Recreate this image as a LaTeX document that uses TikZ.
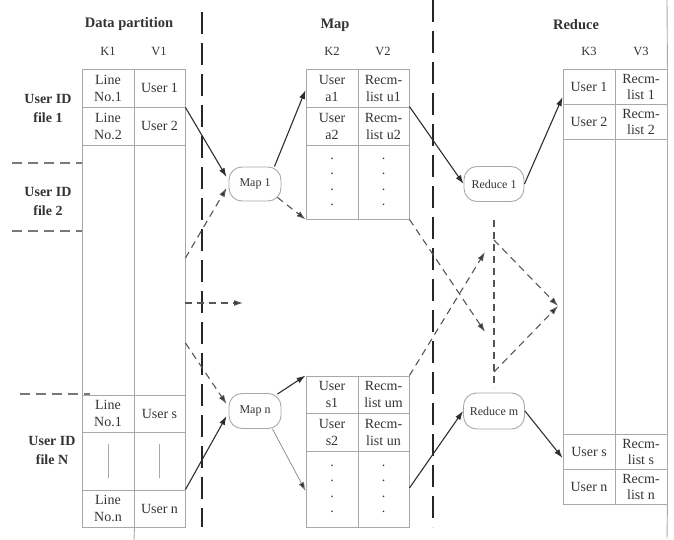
\documentclass[tikz,border=0pt]{standalone}
\usepackage{fontspec}
\setmainfont{Liberation Serif}
\usetikzlibrary{arrows.meta}
\definecolor{tline}{HTML}{A8A8A8}
\definecolor{txt}{HTML}{333333}
\definecolor{arr}{HTML}{2E2E2E}
\definecolor{darr}{HTML}{555555}
\begin{document}
\begin{tikzpicture}[x=1pt,y=-1pt,
  cell/.style={draw=tline,line width=0.9pt,inner sep=0pt,align=center,text=txt,
    font=\fontsize{14}{17}\selectfont},
  dots/.style={cell,font=\fontsize{14}{15.5}\selectfont},
  pill/.style={draw=tline,line width=0.9pt,rounded corners=13pt,inner sep=0pt,
    text=txt,font=\fontsize{12}{14}\selectfont},
  head/.style={text=txt,font=\fontsize{14.5}{17}\selectfont\bfseries},
  colhead/.style={text=txt,font=\fontsize{12.5}{15}\selectfont},
  side/.style={text=txt,align=center,font=\fontsize{14}{19}\selectfont\bfseries},
  sarr/.style={draw=arr,line width=1.1pt,-{Latex[length=9pt,width=6pt]}},
  darrow/.style={draw=darr,line width=1.1pt,dash pattern=on 7pt off 5pt,-{Latex[length=9pt,width=6pt,fill=arr]}},
  dline/.style={draw=darr,line width=1.1pt,dash pattern=on 7pt off 5pt},
  sep/.style={draw=black!85,line width=2.2pt,dash pattern=on 22pt off 9pt},
  lsep/.style={draw=darr!80,line width=1.3pt,dash pattern=on 10pt off 6pt},
  ext/.style={draw=tline,line width=0.9pt}]
\useasboundingbox (0,0) rectangle (674,540);

% headers
\node[head] (hdp) at (129,24) {Data partition};
\node[head] (hmap) at (335,25) {Map};
\node[head] (hred) at (576,25) {Reduce};
\node[colhead] (k1) at (108,51) {K1};
\node[colhead] (v1) at (159,51) {V1};
\node[colhead] (k2) at (332,51) {K2};
\node[colhead] (v2) at (383,51) {V2};
\node[colhead] (k3) at (589,51) {K3};
\node[colhead] (v3) at (641,51) {V3};

% side labels
\node[side] (f1) at (48,108) {User ID\\file 1};
\node[side] (f2) at (48,201) {User ID\\file 2};
\node[side] (fn) at (52,450) {User ID\\file N};
\coordinate (l1a) at (12,163); \coordinate (l1b) at (82,163);
\coordinate (l2a) at (12,231); \coordinate (l2b) at (82,231);
\coordinate (l3a) at (20,394); \coordinate (l3b) at (90,394);
\draw[lsep] (l1a) -- (l1b);
\draw[lsep] (l2a) -- (l2b);
\draw[lsep] (l3a) -- (l3b);

% data partition table
\node[cell,minimum width=52pt,minimum height=38pt] (d11) at (108,88) {Line\\No.1};
\node[cell,minimum width=51pt,minimum height=38pt] (d12) at (159.5,88) {User 1};
\node[cell,minimum width=52pt,minimum height=38pt] (d21) at (108,126) {Line\\No.2};
\node[cell,minimum width=51pt,minimum height=38pt] (d22) at (159.5,126) {User 2};
\node[cell,minimum width=52pt,minimum height=250pt] (d31) at (108,270) {};
\node[cell,minimum width=51pt,minimum height=250pt] (d32) at (159.5,270) {};
\node[cell,minimum width=52pt,minimum height=37pt] (d41) at (108,413.5) {Line\\No.1};
\node[cell,minimum width=51pt,minimum height=37pt] (d42) at (159.5,413.5) {User s};
\node[cell,minimum width=52pt,minimum height=58pt] (d51) at (108,461) {\textcolor{tline}{\rule{0.9pt}{34pt}}};
\node[cell,minimum width=51pt,minimum height=58pt] (d52) at (159.5,461) {\textcolor{tline}{\rule{0.9pt}{34pt}}};
\node[cell,minimum width=52pt,minimum height=37pt] (d61) at (108,508.5) {Line\\No.n};
\node[cell,minimum width=51pt,minimum height=37pt] (d62) at (159.5,508.5) {User n};
\coordinate (dext) at (134,540);
\draw[ext] (d61.south east) -- (dext);

% map tables
\node[cell,minimum width=52pt,minimum height=38pt] (m11) at (332,88) {User\\a1};
\node[cell,minimum width=51pt,minimum height=38pt] (m12) at (383.5,88) {Recm-\\list u1};
\node[cell,minimum width=52pt,minimum height=38pt] (m21) at (332,126) {User\\a2};
\node[cell,minimum width=51pt,minimum height=38pt] (m22) at (383.5,126) {Recm-\\list u2};
\node[dots,minimum width=52pt,minimum height=74pt] (m31) at (332,182) {.\\.\\.\\.};
\node[dots,minimum width=51pt,minimum height=74pt] (m32) at (383.5,182) {.\\.\\.\\.};

\node[cell,minimum width=52pt,minimum height=37pt] (n11) at (332,394.5) {User\\s1};
\node[cell,minimum width=51pt,minimum height=37pt] (n12) at (383.5,394.5) {Recm-\\list um};
\node[cell,minimum width=52pt,minimum height=38pt] (n21) at (332,432) {User\\s2};
\node[cell,minimum width=51pt,minimum height=38pt] (n22) at (383.5,432) {Recm-\\list un};
\node[dots,minimum width=52pt,minimum height=76pt] (n31) at (332,489) {.\\.\\.\\.};
\node[dots,minimum width=51pt,minimum height=76pt] (n32) at (383.5,489) {.\\.\\.\\.};

% reduce table
\node[cell,minimum width=52pt,minimum height=35pt] (r11) at (589,86.5) {User 1};
\node[cell,minimum width=52pt,minimum height=35pt,font=\fontsize{14}{16}\selectfont] (r12) at (641,86.5) {Recm-\\list 1};
\node[cell,minimum width=52pt,minimum height=35pt] (r21) at (589,121.5) {User 2};
\node[cell,minimum width=52pt,minimum height=35pt,font=\fontsize{14}{16}\selectfont] (r22) at (641,121.5) {Recm-\\list 2};
\node[cell,minimum width=52pt,minimum height=295pt] (r31) at (589,286.5) {};
\node[cell,minimum width=52pt,minimum height=295pt] (r32) at (641,286.5) {};
\node[cell,minimum width=52pt,minimum height=35pt] (r41) at (589,451.5) {User s};
\node[cell,minimum width=52pt,minimum height=35pt,font=\fontsize{14}{16}\selectfont] (r42) at (641,451.5) {Recm-\\list s};
\node[cell,minimum width=52pt,minimum height=35pt] (r51) at (589,486.5) {User n};
\node[cell,minimum width=52pt,minimum height=35pt,font=\fontsize{14}{16}\selectfont] (r52) at (641,486.5) {Recm-\\list n};
\coordinate (rtop) at (667,0);
\coordinate (rbot) at (667,538);
\draw[ext] (rtop) -- (r12.north east);
\draw[ext] (r52.south east) -- (rbot);

% separators
\coordinate (s1a) at (202,12); \coordinate (s1b) at (202,527);
\coordinate (s2a) at (433,0); \coordinate (s2b) at (433,527);
\draw[sep] (s1a) -- (s1b);
\draw[sep] (s2a) -- (s2b);

% process nodes
\node[pill,minimum width=52pt,minimum height=34pt] (map1) at (255,184) {Map 1};
\node[pill,minimum width=52pt,minimum height=35pt] (mapn) at (255,411) {Map n};
\node[pill,minimum width=60pt,minimum height=35pt] (red1) at (494,184) {Reduce 1};
\node[pill,minimum width=61pt,minimum height=36pt] (redm) at (494,411) {Reduce m};

% data -> map
\draw[sarr] (d12.south east) -- ([xshift=-2pt,yshift=7pt]map1.west);
\draw[darrow] ([yshift=12pt]d32.east) -- ([xshift=-2pt,yshift=-4pt]map1.west);
\coordinate (mid) at (243,303);
\draw[darrow] ([yshift=-33pt]d32.east) -- (mid);
\draw[darrow] ([yshift=-73pt]d32.east) -- ([xshift=-2pt,yshift=7pt]mapn.west);
\draw[sarr] (d62.north east) -- ([xshift=-2pt,yshift=-5pt]mapn.west);

% map -> map tables
\draw[sarr] ([xshift=-7pt]map1.north east) -- ([yshift=-2pt]m11.west);
\draw[darrow] ([xshift=-4pt,yshift=4pt]map1.south east) -- (m31.south west);
\draw[sarr] ([xshift=-4pt,yshift=-1pt]mapn.north east) -- (n11.north west);
\draw[draw=arr!60,line width=0.7pt,-{Latex[length=9pt,width=6pt,fill=arr]}] ([xshift=-9pt]mapn.south east) -- ([yshift=-2pt]n31.west);

% map tables -> reduce
\draw[sarr] (m22.north east) -- (red1.west);
\coordinate (x1) at (485,332);
\coordinate (x2) at (485,252);
\draw[darrow] (m32.south east) -- (x1);
\draw[darrow] (n12.north east) -- (x2);
\draw[sarr] ([yshift=1pt]n32.east) -- (redm.west);

% reduce -> reduce table
\draw[sarr] (red1.east) -- ([yshift=-10.5pt]r11.west);
\draw[sarr] (redm.east) -- ([yshift=-6.5pt]r41.west);

% dashed shuffle in reduce column
\coordinate (vtop) at (494,220);
\coordinate (vbot) at (494,388);
\coordinate (vb1) at (494,240);
\coordinate (vb2) at (494,372);
\coordinate (join) at (558,306);
\draw[dline] (vtop) -- (vbot);
\draw[darrow] (vb1) -- (join);
\draw[darrow] (vb2) -- (join);
\end{tikzpicture}
\end{document}
